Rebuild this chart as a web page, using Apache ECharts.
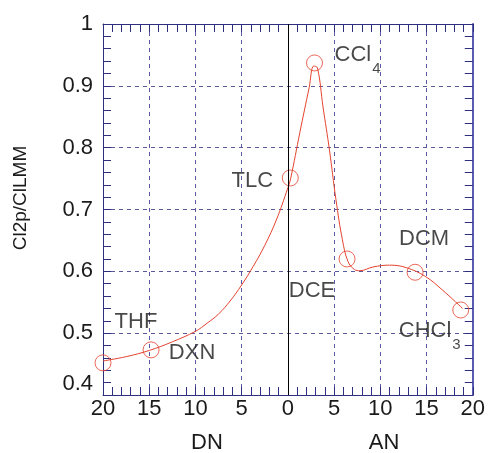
<!DOCTYPE html>
<html><head><meta charset="utf-8">
<script src="https://cdn.jsdelivr.net/npm/echarts@6/dist/echarts.min.js"></script>
<style>html,body{margin:0;padding:0;background:#fff}#c{width:488px;height:453px}</style>
</head><body><div id="c"></div>
<script>
// Solvent points: negative x = DN side (left), positive x = AN side (right)
const solventNames = ['THF', 'DXN', 'TLC', 'CCl4', 'DCE', 'DCM', 'CHCl3'];
const solventX = [-20, -14.8, 0.26, 2.88, 6.4, 13.76, 18.7];
const solventY = [0.452, 0.473, 0.751, 0.937, 0.620, 0.5985, 0.5375];

// Guide curve
const curveX = [-20, -17.5, -15, -12.5, -10, -8.75, -7.5, -6.25, -5, -3.75, -2.5, -1.25, 0, 0.3, 1.3, 2.3, 2.8, 3.2, 3.8, 4.5, 5.2, 5.9, 6.5, 7.2, 7.8, 9.2, 11, 12.8, 14.9, 16.7, 18.9];
const curveY = [0.455, 0.462, 0.472, 0.486, 0.503, 0.516, 0.531, 0.552, 0.578, 0.608, 0.642, 0.683, 0.735, 0.750, 0.825, 0.897, 0.932, 0.929, 0.866, 0.796, 0.716, 0.651, 0.616, 0.603, 0.601, 0.607, 0.610, 0.606, 0.5915, 0.570, 0.540];

const xTickValues = [-20, -15, -10, -5, 0, 5, 10, 15, 20];
const xTickLabels = ['20', '15', '10', '5', '0', '5', '10', '15', '20'];
const yTickValues = [0.4, 0.5, 0.6, 0.7, 0.8, 0.9, 1.0];
const yTickLabels = ['0.4', '0.5', '0.6', '0.7', '0.8', '0.9', '1'];

const yTitle = 'Cl2p/ClLMM';
const xTitleLeft = 'DN';
const xTitleRight = 'AN';

// label styling (positions relative to each marker)
const labelStyle = {
  THF:   {offset: [33, -41], align: 'center', text: 'THF'},
  DXN:   {offset: [41, 3], align: 'center', text: 'DXN'},
  TLC:   {offset: [-38, 3], align: 'center', text: 'TLC'},
  CCl4:  {offset: [20, -8], align: 'left', text: '{m|CCl}{s|4}'},
  DCE:   {offset: [-35, 32], align: 'center', text: 'DCE'},
  DCM:   {offset: [9, -33], align: 'center', text: 'DCM'},
  CHCl3: {offset: [-62, 21], align: 'left', text: '{m|CHCl}{s|3}'}
};

const FONT = "'Liberation Sans', Arial, Helvetica, sans-serif";
const NAVY = '#2e2e7e';
const GRID = '#5a5aa0';
const RED = '#e5432f';
const TXT = '#1a1a1a';

const scatterData = solventNames.map((n, i) => {
  const st = labelStyle[n];
  return {
    name: n,
    value: [solventX[i], solventY[i]],
    label: {
      show: true, position: 'inside', align: st.align, verticalAlign: 'middle',
      offset: st.offset, formatter: st.text,
      color: TXT, fontSize: 22, fontFamily: FONT,
      rich: {
        m: {fontSize: 22, lineHeight: 22, color: TXT, fontFamily: FONT},
        s: {fontSize: 15, lineHeight: 15, color: TXT, fontFamily: FONT, padding: [27, 0, 0, 1]}
      }
    }
  };
});

const chart = echarts.init(document.getElementById('c'), null, {renderer: 'canvas'});
chart.setOption({
  animation: false,
  backgroundColor: '#fff',
  grid: {left: 103, right: 14, top: 24, bottom: 58},
  xAxis: [{
    type: 'value', min: -20, max: 20, interval: 5, position: 'bottom',
    axisLine: {show: true, onZero: false, lineStyle: {color: NAVY, width: 1}},
    axisTick: {show: true, inside: true, length: 8, lineStyle: {color: NAVY}},
    minorTick: {show: true, splitNumber: 5, length: 8, lineStyle: {color: NAVY}},
    splitLine: {show: true, lineStyle: {color: GRID, type: [4, 4], width: 1}},
    axisLabel: {
      margin: 3, fontSize: 22, color: TXT, fontFamily: FONT,
      formatter: v => { const k = xTickValues.indexOf(Math.round(v)); return k >= 0 ? xTickLabels[k] : ''; }
    }
  }, {
    type: 'value', min: -20, max: 20, interval: 5, position: 'top',
    axisLine: {show: true, onZero: false, lineStyle: {color: NAVY, width: 1}},
    axisTick: {show: true, inside: true, length: 8, lineStyle: {color: NAVY}},
    minorTick: {show: true, splitNumber: 5, length: 8, lineStyle: {color: NAVY}},
    splitLine: {show: false}, axisLabel: {show: false}
  }],
  yAxis: [{
    type: 'value', min: 0.4, max: 1.0, interval: 0.1, position: 'left',
    axisLine: {show: true, onZero: false, lineStyle: {color: NAVY, width: 1}},
    axisTick: {show: true, inside: true, length: 8, lineStyle: {color: NAVY}},
    minorTick: {show: true, splitNumber: 5, length: 8, lineStyle: {color: NAVY}},
    splitLine: {show: true, lineStyle: {color: GRID, type: [4, 4], width: 1}},
    axisLabel: {
      margin: 10, fontSize: 22, color: TXT, fontFamily: FONT,
      formatter: v => {
        let k = -1;
        yTickValues.forEach((t, i) => { if (Math.abs(t - v) < 1e-6) k = i; });
        if (k < 0) return '';
        return k === 0 ? '{low|' + yTickLabels[k] + '}' : yTickLabels[k];
      },
      rich: {low: {fontSize: 22, color: TXT, fontFamily: FONT, padding: [0, 0, 22, 0]}}
    }
  }, {
    type: 'value', min: 0.4, max: 1.0, interval: 0.1, position: 'right',
    axisLine: {show: true, onZero: false, lineStyle: {color: '#5b5bb0', width: 2}},
    axisTick: {show: true, inside: true, length: 8, lineStyle: {color: NAVY}},
    minorTick: {show: true, splitNumber: 5, length: 8, lineStyle: {color: NAVY}},
    splitLine: {show: false}, axisLabel: {show: false}
  }],
  graphic: [
    {type: 'text', x: 21, y: 198, rotation: Math.PI / 2,
     style: {text: yTitle, fontSize: 19, fontFamily: FONT, fill: TXT, align: 'center', verticalAlign: 'middle'}},
    {type: 'text', x: 207, y: 443,
     style: {text: xTitleLeft, fontSize: 22, fontFamily: FONT, fill: TXT, align: 'center', verticalAlign: 'middle'}},
    {type: 'text', x: 384, y: 443,
     style: {text: xTitleRight, fontSize: 22, fontFamily: FONT, fill: TXT, align: 'center', verticalAlign: 'middle'}}
  ],
  series: [{
    type: 'line', xAxisIndex: 0, yAxisIndex: 0,
    data: curveX.map((x, i) => [x, curveY[i]]),
    smooth: 0.4, showSymbol: false, symbol: 'none',
    lineStyle: {color: RED, width: 1}, z: 3,
    markLine: {
      silent: true, symbol: 'none', label: {show: false},
      lineStyle: {color: '#000', type: 'solid', width: 1},
      data: [{xAxis: 0}]
    }
  }, {
    type: 'scatter', xAxisIndex: 0, yAxisIndex: 0,
    data: scatterData, symbol: 'circle', symbolSize: 16,
    itemStyle: {color: 'rgba(0,0,0,0)', borderColor: RED, borderWidth: 1},
    z: 4
  }]
});
</script>
</body></html>
